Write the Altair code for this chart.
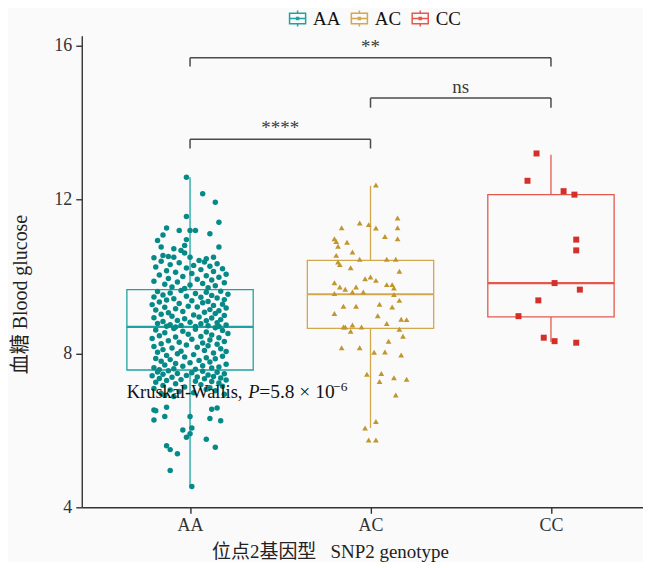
import altair as alt
import pandas as pd

SERIF = "'Liberation Serif', 'Noto Sans CJK SC', serif"

groups = ["AA", "AC", "CC"]
group_pos = [1, 2, 3]
box_colors = ["#1FA3A2", "#D3A84C", "#E2594C"]
point_colors = ["#068A88", "#C2962E", "#D3302B"]
point_shapes = ["circle", "triangle-up", "square"]

# box-plot summaries
box_q1 = [7.57, 8.65, 8.95]
box_median = [8.69, 9.54, 9.83]
box_q3 = [9.66, 10.42, 12.13]
whisker_low = [4.54, 6.06, 8.30]
whisker_high = [12.58, 12.36, 13.17]

# jittered observations (value, horizontal jitter in category units)
aa_value = [
    12.58, 12.15, 11.93, 11.56, 11.41, 11.26, 11.20, 11.20, 11.20, 11.11,
    11.08, 10.94, 10.96, 10.81, 10.77, 10.77, 10.72, 10.68, 10.61, 10.49,
    10.55, 10.52, 10.50, 10.50, 10.46, 10.50, 10.42,
    10.40, 10.38, 10.36, 10.33, 10.31, 10.29, 10.27, 10.25, 10.22, 10.20,
    10.18, 10.15, 10.13, 10.11, 10.08, 10.06, 10.04, 10.02, 10.00, 9.98,
    9.95, 9.93, 9.91, 9.88, 9.86, 9.84, 9.82, 9.80, 9.78, 9.76,
    9.73, 9.71, 9.69,
    9.64, 9.62, 9.61, 9.59, 9.57, 9.56, 9.54, 9.52, 9.51, 9.49,
    9.47, 9.46, 9.44, 9.42, 9.40, 9.39, 9.37, 9.35, 9.34, 9.32,
    9.30, 9.28, 9.27, 9.25, 9.23, 9.21, 9.20, 9.18, 9.16, 9.14,
    9.13, 9.11, 9.09, 9.07, 9.06, 9.04, 9.02, 9.00, 8.99, 8.97,
    8.95, 8.93, 8.92, 8.90, 8.88, 8.86, 8.85, 8.83, 8.81, 8.80,
    8.78, 8.77, 8.75, 8.74, 8.73, 8.72, 8.71, 8.70, 8.70, 8.69,
    8.67, 8.65, 8.63, 8.61, 8.60, 8.58, 8.56, 8.54, 8.52, 8.50,
    8.48, 8.46, 8.44, 8.43, 8.41, 8.39, 8.37, 8.35, 8.33, 8.31,
    8.29, 8.27, 8.25, 8.24, 8.22, 8.20, 8.18, 8.16, 8.14, 8.12,
    8.10, 8.08, 8.06, 8.05, 8.03, 8.01, 7.99, 7.97, 7.95, 7.93,
    7.91, 7.89, 7.87, 7.86, 7.84, 7.82, 7.80, 7.78, 7.76, 7.74,
    7.72, 7.70, 7.68, 7.67, 7.65, 7.63, 7.62, 7.60, 7.59, 7.58,
    7.55, 7.54, 7.52, 7.51, 7.50, 7.48, 7.47, 7.46, 7.44, 7.43,
    7.42, 7.40, 7.39, 7.38, 7.36, 7.35, 7.34, 7.32, 7.31, 7.30,
    7.28, 7.27, 7.25, 7.23, 7.21, 7.19, 7.17, 7.15, 7.13, 7.11,
    7.09, 7.07, 7.05, 7.03, 7.01, 6.98, 6.96, 6.94, 6.91, 6.88,
    6.60, 6.58, 6.55, 6.53, 6.51, 6.36, 6.36, 6.31, 6.27, 6.25,
    6.06, 6.01, 5.91, 5.82, 5.77, 5.60, 5.56, 5.50, 5.39, 4.96, 4.54,
]
aa_jitter = [
    -0.02, 0.07, 0.14, -0.02, 0.16, -0.13, -0.06, 0.00, 0.03, 0.11,
    -0.15, -0.18, -0.02, -0.03, 0.16, -0.16, -0.09, -0.05, -0.03, -0.20,
    -0.15, -0.12, -0.09, 0.00, 0.09, 0.13, 0.05,
    -0.16, 0.08, -0.06, 0.15, -0.11, 0.02, 0.11, -0.19, -0.02, 0.18,
    0.06, -0.13, 0.13, -0.08, 0.01, 0.20, -0.17, 0.09, -0.04, 0.16,
    -0.12, 0.04, 0.12, -0.20, -0.07, 0.19, 0.07, -0.14, 0.00, 0.14,
    -0.10, 0.10, -0.03,
    -0.05, 0.17, -0.18, 0.09, -0.11, 0.03, 0.21, -0.15, 0.12, -0.02,
    -0.20, 0.06, 0.15, -0.09, 0.19, -0.13, 0.01, 0.10, -0.17, 0.07,
    -0.06, 0.18, -0.21, 0.13, -0.01, 0.04, -0.14, 0.20, -0.08, 0.11,
    -0.19, 0.16, -0.04, 0.08, -0.12, 0.14, -0.16, 0.02, 0.19, -0.10,
    0.05, -0.20, 0.12, -0.03, 0.17, -0.07, 0.09, -0.15, 0.00, 0.15,
    -0.18, 0.06, -0.11, 0.20, -0.05, 0.10, -0.13, 0.03, 0.16, -0.08,
    0.14, -0.09, 0.03, -0.19, 0.18, -0.04, 0.09, -0.14, 0.21, -0.01,
    0.12, -0.17, 0.06, -0.08, 0.16, -0.21, 0.01, 0.11, -0.12, 0.19,
    -0.06, 0.07, -0.16, 0.15, -0.02, 0.10, -0.20, 0.04, -0.10, 0.17,
    -0.15, 0.08, -0.05, 0.20, -0.18, 0.13, -0.07, 0.02, -0.13, 0.18,
    -0.03, 0.09, -0.19, 0.14, -0.11, 0.05, -0.16, 0.11, 0.00, -0.08,
    0.20, -0.14, 0.07, -0.04, 0.16, -0.20, 0.12, -0.09, 0.03, -0.17,
    -0.12, 0.07, -0.18, 0.15, 0.01, -0.07, 0.19, -0.15, 0.10, -0.02,
    -0.21, 0.13, 0.04, -0.10, 0.17, -0.17, 0.08, -0.05, 0.20, -0.13,
    0.03, 0.12, -0.19, 0.16, -0.08, 0.06, -0.15, 0.18, -0.03, 0.11,
    -0.20, 0.09, -0.11, 0.14, -0.06, 0.02, -0.16, 0.19, -0.14, -0.09,
    -0.13, 0.15, 0.12, -0.20, -0.19, -0.14, 0.00, 0.11, -0.20, 0.17,
    0.01, -0.04, 0.00, -0.02, 0.09, -0.13, 0.14, -0.11, -0.07, -0.11, 0.01,
]
ac_value = [
    12.38, 11.52, 11.27, 11.39, 11.35, 11.26, 11.27, 10.98, 10.91, 10.89,
    11.04, 10.98, 10.79, 10.64, 10.55, 10.38, 10.31, 10.45, 10.45, 10.45,
    10.23, 10.14, 9.94, 9.99, 9.90, 9.84, 9.73, 9.67, 9.73, 9.79,
    9.79, 9.70, 9.56, 9.60, 9.60, 9.53, 9.38, 9.23, 9.23, 9.28,
    9.21, 9.04, 8.98, 8.89, 8.88, 8.78, 8.69, 8.69, 8.74, 8.69,
    8.58, 8.63, 8.45, 8.32, 8.15, 8.15, 8.03, 8.04, 7.96, 7.46,
    7.48, 7.27, 7.37, 7.33, 6.92, 6.23, 6.06, 5.75, 5.75,
]
ac_jitter = [
    0.03, 0.15, -0.16, -0.06, -0.01, 0.03, 0.15, -0.20, -0.19, -0.13,
    0.08, 0.15, -0.18, -0.10, -0.19, -0.18, -0.17, -0.06, 0.09, 0.14,
    -0.11, 0.16, -0.03, 0.00, 0.03, -0.20, -0.17, -0.14, -0.08, 0.09,
    0.12, 0.13, -0.20, -0.10, -0.04, 0.13, 0.16, -0.15, -0.08, 0.05,
    0.12, -0.20, 0.04, 0.17, 0.20, 0.09, -0.15, -0.14, -0.10, -0.05,
    -0.11, 0.16, 0.18, 0.10, -0.16, -0.06, 0.02, 0.08, 0.17, -0.02,
    0.06, 0.05, 0.13, 0.20, 0.14, 0.03, -0.03, -0.01, 0.03,
]
cc_value = [13.20, 12.49, 12.22, 12.13, 10.96, 10.68, 9.83, 9.66, 9.38, 8.97, 8.41, 8.32, 8.28]
cc_jitter = [-0.08, -0.13, 0.07, 0.13, 0.14, 0.14, 0.02, 0.16, -0.07, -0.18, -0.04, 0.02, 0.14]

# significance brackets
bracket_from = [1, 2, 1]
bracket_to = [3, 3, 2]
bracket_y = [15.69, 14.64, 13.57]
bracket_tip = [15.46, 14.39, 13.33]
bracket_label = ["**", "ns", "****"]

# Kruskal-Wallis annotation
kw_x = [0.649]
kw_y = [6.84]
kw_parts = ["Kruskal-Wallis,", "P", "=5.8 × 10", "−6"]

y_ticks = [4, 8, 12, 16]

box_df = pd.DataFrame({"genotype": groups, "pos": group_pos, "q1": box_q1, "median": box_median,
                       "q3": box_q3, "lo": whisker_low, "hi": whisker_high})
pts_df = pd.concat([
    pd.DataFrame({"group": "AA", "pos": 1, "value": aa_value, "jitter": aa_jitter}),
    pd.DataFrame({"group": "AC", "pos": 2, "value": ac_value, "jitter": ac_jitter}),
    pd.DataFrame({"group": "CC", "pos": 3, "value": cc_value, "jitter": cc_jitter}),
], ignore_index=True)
br_df = pd.DataFrame({"x1": bracket_from, "x2": bracket_to, "y": bracket_y, "tip": bracket_tip, "label": bracket_label})
kw_df = pd.DataFrame({"x": kw_x, "y": kw_y})

x_scale = alt.Scale(domain=[0.4, 3.51], nice=False, zero=False)
y_scale = alt.Scale(domain=[4, 16.26], nice=False, zero=False)

label_expr = "[" + ",".join("'%s'" % g for g in groups) + "][datum.value - 1]"
x_axis = alt.Axis(values=group_pos, labelExpr=label_expr, title="位点2基因型\u00a0\u00a0\u00a0SNP2 genotype", grid=False,
                  domainColor="#333333", domainWidth=1.4, tickColor="#333333", tickWidth=1.4, tickSize=6,
                  labelPadding=3, labelFont=SERIF, labelFontSize=18, labelColor="#333333", labelFlush=False,
                  titleFont=SERIF, titleFontSize=19, titleFontWeight="normal", titleColor="#222222",
                  titleX=249, titlePadding=8)
y_axis = alt.Axis(values=y_ticks, title="血糖 Blood glucose", grid=False,
                  domainColor="#333333", domainWidth=1.4, tickColor="#333333", tickWidth=1.4, tickSize=6,
                  labelPadding=4, labelFont=SERIF, labelFontSize=18, labelColor="#333333",
                  titleFont=SERIF, titleFontSize=20, titleFontWeight="normal", titleColor="#222222",
                  titleX=-51, titleY=259, titleAlign="center", titleBaseline="bottom")


def X(f):
    return alt.X(f, type="quantitative", scale=x_scale, axis=x_axis)


def Y(f):
    return alt.Y(f, type="quantitative", scale=y_scale, axis=y_axis)


legend = alt.Legend(title=None, orient="none", legendX=207, legendY=-27, direction="horizontal",
                    symbolType="M-1,-0.66H1V0.66H-1Z M-1,0H1 M0,-0.66V-1 M0,0.66V1 M-0.12,-0.12H0.12V0.12H-0.12Z",
                    symbolSize=260, symbolStrokeWidth=1.5, symbolFillColor="transparent",
                    labelFont=SERIF, labelFontSize=19, labelColor="#111111", labelOffset=6,
                    columnPadding=7, padding=0)

box_base = alt.Chart(box_df).transform_calculate(xl="datum.pos - 0.35", xr="datum.pos + 0.35")
# scales without a legend take their domain from the data (sorted), so legends are not merged
rule_color = alt.Color("genotype:N", scale=alt.Scale(range=box_colors), legend=None)

boxes = box_base.mark_rect(fill="transparent", strokeWidth=1.3).encode(
    x=X("xl"), x2="xr", y=Y("q1"), y2="q3",
    stroke=alt.Stroke("genotype:N", scale=alt.Scale(domain=groups, range=box_colors), legend=legend))
whisk_hi = box_base.mark_rule(strokeWidth=1.3).encode(x=X("pos"), y=Y("q3"), y2="hi", color=rule_color)
whisk_lo = box_base.mark_rule(strokeWidth=1.3).encode(x=X("pos"), y=Y("lo"), y2="q1", color=rule_color)
medians = box_base.mark_rule(strokeWidth=2.2).encode(x=X("xl"), x2="xr", y=Y("median"), color=rule_color)

points = alt.Chart(pts_df).transform_calculate(xj="datum.pos + datum.jitter").mark_point(
    filled=True, opacity=1, strokeWidth=0).encode(
    x=X("xj"), y=Y("value"),
    fill=alt.Fill("group:N", scale=alt.Scale(range=point_colors), legend=None),
    shape=alt.Shape("group:N", scale=alt.Scale(range=point_shapes), legend=None),
    size=alt.Size("group:N", scale=alt.Scale(range=[30, 36, 32]), legend=None))

br_base = alt.Chart(br_df)
br_h = br_base.mark_rule(color="#4a4a4a", strokeWidth=1.5).encode(x=X("x1"), x2="x2", y=Y("y"))
br_l = br_base.mark_rule(color="#4a4a4a", strokeWidth=1.5).encode(x=X("x1"), y=Y("y"), y2="tip")
br_r = br_base.mark_rule(color="#4a4a4a", strokeWidth=1.5).encode(x=X("x2"), y=Y("y"), y2="tip")
br_t = br_base.transform_calculate(xm="(datum.x1 + datum.x2) / 2").mark_text(
    font=SERIF, fontSize=19, color="#3a3a3a", baseline="alphabetic", align="center", dy=-5).encode(
    x=X("xm"), y=Y("y"), text="label:N")

kw_base = alt.Chart(kw_df)
kw1 = kw_base.mark_text(text=kw_parts[0], font=SERIF, fontSize=18.5, color="#111111", align="left",
                        baseline="alphabetic").encode(x=X("x"), y=Y("y"))
kw2 = kw_base.mark_text(text=kw_parts[1], font=SERIF, fontSize=18.5, fontStyle="italic", color="#111111",
                        align="left", baseline="alphabetic", dx=122).encode(x=X("x"), y=Y("y"))
kw3 = kw_base.mark_text(text=kw_parts[2], font=SERIF, fontSize=19.5, color="#111111", align="left",
                        baseline="alphabetic", dx=133).encode(x=X("x"), y=Y("y"))
kw4 = kw_base.mark_text(text=kw_parts[3], font=SERIF, fontSize=13.5, color="#111111", align="left",
                        baseline="alphabetic", dx=207, dy=-7).encode(x=X("x"), y=Y("y"))

chart = alt.layer(boxes, whisk_hi, whisk_lo, medians, points, br_h, br_l, br_r, br_t,
                  kw1, kw2, kw3, kw4).properties(
    width=563, height=473, background="#FAFAFA",
    padding={"left": 3, "top": 0, "right": 0, "bottom": 0},
).configure_view(stroke=None)

chart.save("out.html", embed_options={"renderer": "svg", "actions": False})
